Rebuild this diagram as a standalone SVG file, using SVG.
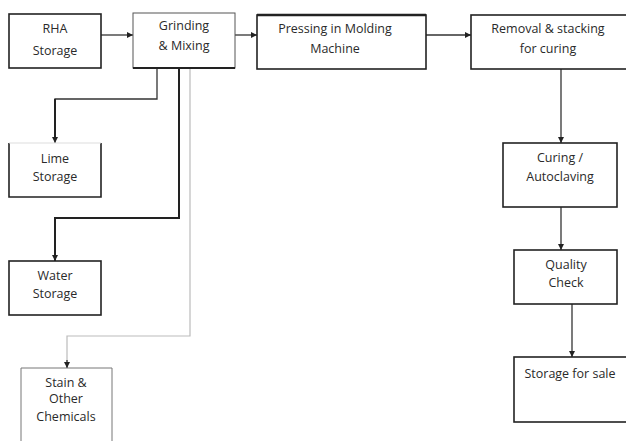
<svg xmlns="http://www.w3.org/2000/svg" width="626" height="441" viewBox="0 0 626 441">
<defs>
<marker id="ah" viewBox="0 0 10 10" refX="10" refY="5" markerWidth="6" markerHeight="6" markerUnits="userSpaceOnUse" orient="auto"><path d="M0,0 L10,5 L0,10 z" fill="#222"/></marker>
</defs>
<style>
.b{fill:#fff;stroke:#222;stroke-width:1.6}
.bl{fill:#fff;stroke:#555;stroke-width:1}
.t{font-family:"Open Sans","Liberation Sans",sans-serif;font-size:12.5px;fill:#2a2a2a;text-anchor:middle}
.c{fill:none;stroke:#333;stroke-width:1.3}
.ct{fill:none;stroke:#222;stroke-width:2}
.cg{fill:none;stroke:#bbb;stroke-width:1.2}
</style>
<rect width="626" height="441" fill="#fff"/>
<g id="connectors">
<path class="c" d="M101,35 H133" marker-end="url(#ah)"/>
<path class="c" d="M235,35 H257" marker-end="url(#ah)"/>
<path class="c" d="M426,35 H471" marker-end="url(#ah)"/>
<path class="c" d="M157,68 V99 H55 V143" marker-end="url(#ah)"/>
<path d="M55,99 V137" stroke="#222" stroke-width="2"/>
<path class="ct" d="M179,68 V218 H55 V261" marker-end="url(#ah)"/>
<path class="cg" d="M190,68 V336 H67 V368"/>
<path class="c" d="M67,360 V368" marker-end="url(#ah)"/>
<path class="c" d="M561,69 V143" marker-end="url(#ah)"/>
<path class="c" d="M561,207 V250" marker-end="url(#ah)"/>
<path class="c" d="M572,304 V357" marker-end="url(#ah)"/>
</g>
<g id="rha"><rect class="b" x="9" y="14" width="92" height="54"/><text class="t" x="55" y="33">RHA</text><text class="t" x="55" y="55">Storage</text></g>
<g id="grinding"><rect class="bl" x="133" y="13" width="102" height="55"/><path d="M133,68 H235" stroke="#222" stroke-width="2"/><text class="t" x="184" y="30">Grinding</text><text class="t" x="184" y="50">&amp; Mixing</text></g>
<g id="pressing"><rect class="b" x="257" y="15" width="169" height="54"/><path d="M257,15 H426" stroke="#222" stroke-width="2.4"/><text class="t" x="335" y="33">Pressing in Molding</text><text class="t" x="335" y="53">Machine</text></g>
<g id="removal"><rect class="b" x="471" y="15" width="160" height="54"/><text class="t" x="548" y="33">Removal &amp; stacking</text><text class="t" x="548" y="53">for curing</text></g>
<g id="lime"><path class="b" d="M9,143 V197 H101 V143"/><path d="M9,143 H101" stroke="#ddd" stroke-width="1"/><text class="t" x="55" y="163">Lime</text><text class="t" x="55" y="181">Storage</text></g>
<g id="water"><rect class="b" x="9" y="261" width="92" height="54"/><text class="t" x="55" y="280">Water</text><text class="t" x="55" y="298">Storage</text></g>
<g id="stain"><path d="M21,443 V368 H112 V443" fill="#fff" stroke="#777" stroke-width="1"/><text class="t" x="66" y="387">Stain &amp;</text><text class="t" x="66" y="403">Other</text><text class="t" x="66" y="421">Chemicals</text></g>
<g id="curing"><rect class="b" x="503" y="143" width="114" height="64"/><text class="t" x="560" y="162">Curing /</text><text class="t" x="560" y="181">Autoclaving</text></g>
<g id="quality"><rect class="b" x="514" y="250" width="103" height="54"/><text class="t" x="566" y="269">Quality</text><text class="t" x="566" y="287">Check</text></g>
<g id="storage"><rect class="b" x="514" y="357" width="116" height="65"/><text class="t" x="570" y="378">Storage for sale</text></g>
</svg>
